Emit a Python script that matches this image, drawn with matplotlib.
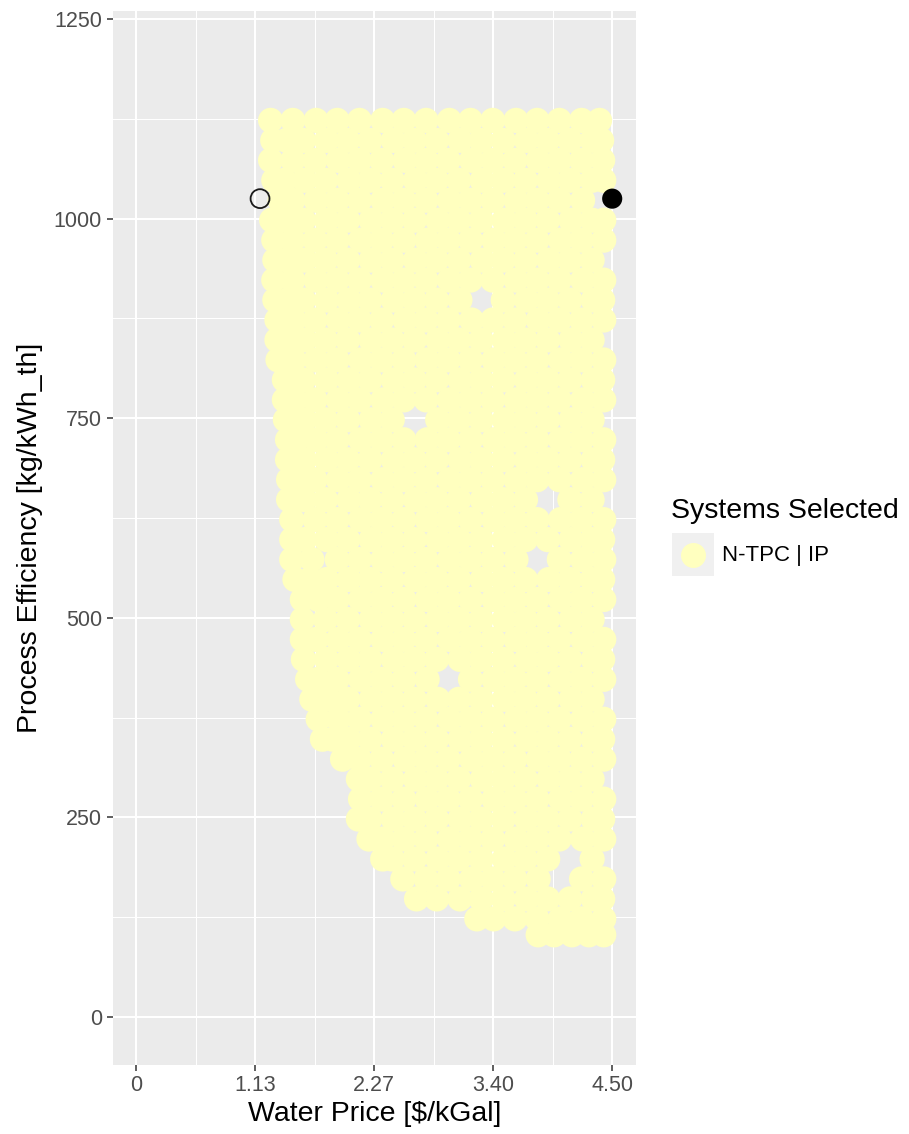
import matplotlib
matplotlib.use("Agg")
import matplotlib.pyplot as plt
from matplotlib.lines import Line2D
from matplotlib.patches import Rectangle
import numpy as np

plt.rcParams['font.family'] = ['Liberation Sans', 'DejaVu Sans']

# Simulated systems: process efficiency level of each row of points
efficiency_rows = [
    1123, 1098, 1073, 1048, 1023, 998, 973, 948, 923, 898,
    873, 848, 823, 798, 773, 748, 723, 698, 673, 648,
    623, 598, 573, 548, 523, 498, 473, 448, 423, 398,
    373, 348, 323, 298, 273, 248, 223, 198, 173, 148,
    123, 103,
]

# Water prices of the simulated systems on each efficiency row
price_rows = [
    [1.27, 1.48, 1.70, 1.90, 2.11, 2.33, 2.53, 2.74, 2.96, 3.16, 3.37, 3.59, 3.79, 4.00, 4.21, 4.38],
    [1.29, 1.42, 1.58, 1.80, 2.00, 2.21, 2.43, 2.63, 2.84, 3.06, 3.26, 3.47, 3.69, 3.89, 4.10, 4.31, 4.40],
    [1.27, 1.48, 1.69, 1.91, 2.11, 2.32, 2.54, 2.74, 2.95, 3.17, 3.37, 3.58, 3.80, 4.00, 4.21, 4.41],
    [1.30, 1.40, 1.59, 1.79, 2.01, 2.21, 2.42, 2.64, 2.84, 3.05, 3.27, 3.47, 3.68, 3.90, 4.10, 4.31, 4.42],
    [1.36, 1.48, 1.70, 1.90, 2.11, 2.33, 2.53, 2.74, 2.96, 3.16, 3.37, 3.59, 3.79, 4.00, 4.22],
    [1.28, 1.40, 1.58, 1.80, 2.00, 2.22, 2.42, 2.63, 2.85, 3.05, 3.26, 3.48, 3.68, 3.89, 4.11, 4.31, 4.42],
    [1.30, 1.48, 1.69, 1.90, 2.12, 2.32, 2.53, 2.75, 2.95, 3.16, 3.38, 3.58, 3.79, 4.01, 4.21, 4.42],
    [1.31, 1.42, 1.59, 1.79, 2.00, 2.22, 2.42, 2.64, 2.84, 3.05, 3.27, 3.47, 3.68, 3.90, 4.10, 4.31],
    [1.30, 1.48, 1.70, 1.90, 2.11, 2.33, 2.53, 2.74, 2.96, 3.16, 3.37, 3.59, 3.79, 4.00, 4.22, 4.42],
    [1.31, 1.43, 1.58, 1.80, 2.01, 2.21, 2.43, 2.63, 2.84, 3.06, 3.47, 3.69, 3.89, 4.10, 4.32, 4.41],
    [1.33, 1.49, 1.69, 1.91, 2.11, 2.32, 2.54, 2.74, 2.95, 3.17, 3.37, 3.58, 3.80, 4.00, 4.21, 4.42],
    [1.33, 1.44, 1.59, 1.79, 2.00, 2.22, 2.42, 2.63, 2.85, 3.05, 3.26, 3.48, 3.68, 3.89, 4.11, 4.31],
    [1.34, 1.49, 1.70, 1.90, 2.12, 2.32, 2.53, 2.75, 2.95, 3.16, 3.38, 3.58, 3.79, 4.01, 4.21, 4.42],
    [1.40, 1.58, 1.80, 2.01, 2.21, 2.43, 2.63, 2.84, 3.06, 3.26, 3.47, 3.69, 3.89, 4.10, 4.32, 4.41],
    [1.40, 1.50, 1.69, 1.91, 2.11, 2.33, 2.53, 2.74, 2.96, 3.16, 3.37, 3.59, 3.79, 4.00, 4.22, 4.42],
    [1.41, 1.59, 1.79, 2.00, 2.22, 2.42, 2.85, 3.05, 3.26, 3.48, 3.68, 3.89, 4.11, 4.31],
    [1.43, 1.52, 1.70, 1.90, 2.12, 2.32, 2.53, 2.75, 2.95, 3.16, 3.38, 3.58, 3.79, 4.01, 4.21, 4.42],
    [1.43, 1.59, 1.80, 2.00, 2.21, 2.43, 2.63, 2.84, 3.06, 3.26, 3.47, 3.69, 3.89, 4.10, 4.32, 4.41],
    [1.44, 1.55, 1.69, 1.91, 2.11, 2.33, 2.53, 2.74, 2.96, 3.16, 3.37, 3.59, 3.79, 4.00, 4.22, 4.42],
    [1.44, 1.59, 1.79, 2.01, 2.21, 2.42, 2.64, 2.84, 3.05, 3.27, 3.47, 3.68, 4.10, 4.31],
    [1.47, 1.69, 1.90, 2.12, 2.32, 2.53, 2.75, 2.95, 3.16, 3.38, 3.58, 3.79, 4.01, 4.21, 4.42],
    [1.47, 1.59, 1.80, 2.00, 2.22, 2.42, 2.63, 2.85, 3.05, 3.26, 3.48, 3.68, 3.89, 4.11, 4.31, 4.41],
    [1.47, 1.66, 1.90, 2.11, 2.33, 2.53, 2.74, 2.96, 3.16, 3.37, 3.59, 4.00, 4.22, 4.42],
    [1.50, 1.64, 1.80, 2.01, 2.21, 2.42, 2.64, 2.84, 3.05, 3.27, 3.47, 3.68, 3.90, 4.10, 4.31, 4.41],
    [1.57, 1.72, 1.90, 2.12, 2.32, 2.53, 2.75, 2.95, 3.16, 3.38, 3.58, 3.79, 4.01, 4.21, 4.42],
    [1.57, 1.79, 2.00, 2.22, 2.42, 2.63, 2.85, 3.05, 3.26, 3.48, 3.68, 3.89, 4.11, 4.31],
    [1.57, 1.70, 1.91, 2.11, 2.33, 2.53, 2.74, 2.96, 3.16, 3.37, 3.59, 3.79, 4.00, 4.22, 4.42],
    [1.58, 1.80, 2.01, 2.21, 2.43, 2.63, 2.84, 3.06, 3.26, 3.47, 3.69, 3.89, 4.10, 4.32, 4.41],
    [1.62, 1.72, 1.90, 2.12, 2.32, 2.53, 2.75, 3.16, 3.38, 3.58, 3.79, 4.01, 4.21, 4.42],
    [1.66, 1.82, 2.00, 2.22, 2.42, 2.63, 2.85, 3.05, 3.26, 3.48, 3.68, 3.89, 4.11, 4.31],
    [1.72, 1.91, 2.11, 2.33, 2.53, 2.74, 2.96, 3.16, 3.37, 3.59, 3.79, 4.00, 4.22, 4.42],
    [1.76, 1.86, 2.01, 2.21, 2.43, 2.63, 2.84, 3.06, 3.26, 3.47, 3.69, 3.89, 4.10, 4.32, 4.41],
    [1.95, 2.11, 2.32, 2.54, 2.74, 2.95, 3.17, 3.37, 3.58, 3.80, 4.00, 4.21, 4.42],
    [2.10, 2.21, 2.42, 2.64, 2.84, 3.05, 3.27, 3.47, 3.68, 3.90, 4.10, 4.31],
    [2.12, 2.32, 2.53, 2.75, 2.95, 3.16, 3.38, 3.58, 3.79, 4.01, 4.21, 4.42],
    [2.10, 2.21, 2.43, 2.63, 2.84, 3.06, 3.26, 3.47, 3.69, 3.89, 4.10, 4.32, 4.41],
    [2.20, 2.33, 2.53, 2.74, 2.96, 3.16, 3.37, 3.59, 3.79, 4.00, 4.22, 4.42],
    [2.33, 2.42, 2.63, 2.85, 3.05, 3.26, 3.48, 3.68, 3.89, 4.31],
    [2.52, 2.74, 2.95, 3.17, 3.37, 3.58, 3.80, 4.21, 4.42],
    [2.65, 2.84, 3.06, 3.26, 3.47, 3.69, 3.89, 4.10, 4.32, 4.41],
    [3.22, 3.38, 3.58, 3.79, 4.01, 4.21, 4.42],
    [3.80, 3.95, 4.12, 4.28, 4.42],
]

# Two highlighted systems
low_price, low_eff = [1.17], [1025]
high_price, high_eff = [4.50], [1025]

# Axis breaks and labels
x_breaks = [0, 1.125, 2.25, 3.375, 4.5]
x_labels = ["0", "1.13", "2.27", "3.40", "4.50"]
y_breaks = [0, 250, 500, 750, 1000, 1250]
y_labels = ["0", "250", "500", "750", "1000", "1250"]

series_name = "N-TPC | IP"
point_color = "#FFFFBF"

price = np.concatenate([np.asarray(r, dtype=float) for r in price_rows])
efficiency = np.concatenate([np.full(len(r), e, dtype=float)
                             for r, e in zip(price_rows, efficiency_rows)])

W, H = 909, 1134
fig = plt.figure(figsize=(W / 100, H / 100), dpi=100)
fig.patch.set_facecolor("white")

left, right, top, bottom = 112.5, 636, 11, 1065
ax = fig.add_axes([left / W, 1 - bottom / H, (right - left) / W, (bottom - top) / H])
ax.set_facecolor("#EBEBEB")
for sp in ax.spines.values():
    sp.set_visible(False)

ax.set_xlim(-0.225, 4.725)
ax.set_ylim(-60, 1260)

ax.set_xticks(x_breaks)
ax.set_xticklabels(x_labels)
ax.set_yticks(y_breaks)
ax.set_yticklabels(y_labels)
x_minor = [(a + b) / 2 for a, b in zip(x_breaks[:-1], x_breaks[1:])]
y_minor = [(a + b) / 2 for a, b in zip(y_breaks[:-1], y_breaks[1:])]
ax.set_xticks(x_minor, minor=True)
ax.set_yticks(y_minor, minor=True)

ax.tick_params(which="major", length=4.5, width=1.1, color="#333333",
               labelcolor="#4D4D4D", labelsize=15.5, pad=3)
ax.tick_params(which="minor", length=0)
ax.grid(which="major", color="white", linewidth=1.5)
ax.grid(which="minor", color="white", linewidth=0.75)
ax.set_axisbelow(True)

ax.scatter(price, efficiency, s=330, c=point_color, edgecolors="none", zorder=2)
ax.scatter(low_price, low_eff, s=185, facecolors="none", edgecolors="#1a1a1a",
           linewidths=1.3, zorder=3)
ax.scatter(high_price, high_eff, s=210, c="black", edgecolors="none", zorder=3)

ax.set_xlabel("Water Price [\\$/kGal]", fontsize=20.5, color="black", labelpad=3)
ax.set_ylabel("Process Efficiency [kg/kWh_th]", fontsize=20.5, color="black", labelpad=8)

# Legend drawn in figure coordinates
fig.text(671 / W, 1 - 518 / H, "Systems Selected", fontsize=20.5,
         ha="left", va="baseline", color="black")
fig.add_artist(Rectangle((672 / W, 1 - 576 / H), 42 / W, 43 / H,
                         transform=fig.transFigure, facecolor="#F0F0F0",
                         edgecolor="none"))
fig.add_artist(Line2D([693 / W], [1 - 554.5 / H], marker="o", markersize=18,
                      color=point_color, markeredgecolor="none", linestyle="none",
                      transform=fig.transFigure))
fig.text(722 / W, 1 - 555 / H, series_name, fontsize=16, ha="left",
         va="center", color="black")

fig.savefig("out.png", dpi=100)
